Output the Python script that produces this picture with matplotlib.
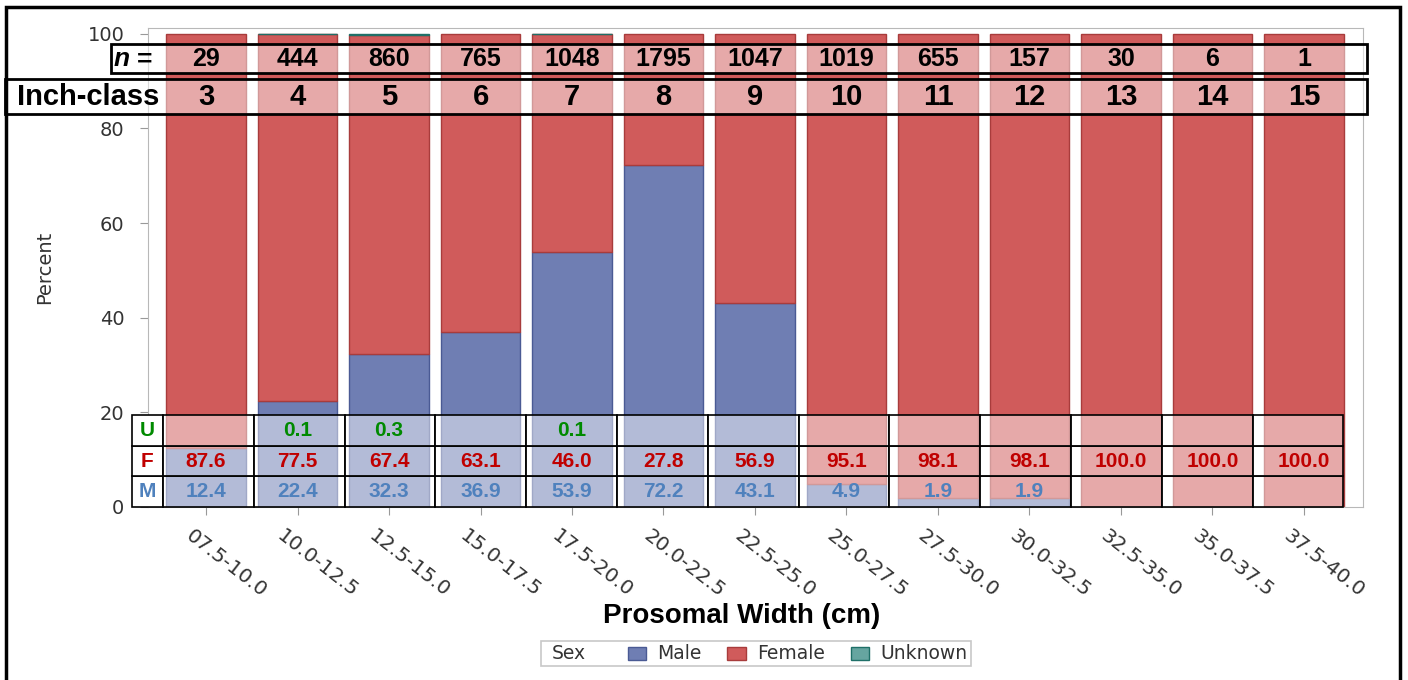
import numpy as np
import matplotlib
matplotlib.use('Agg')
import matplotlib.pyplot as plt
from matplotlib.patches import Rectangle
from matplotlib.transforms import ScaledTranslation
from matplotlib.offsetbox import AnchoredOffsetbox, HPacker, TextArea, DrawingArea
from matplotlib import font_manager

# Dados
classes = ['07.5-10.0', '10.0-12.5', '12.5-15.0', '15.0-17.5', '17.5-20.0', '20.0-22.5',
           '22.5-25.0', '25.0-27.5', '27.5-30.0', '30.0-32.5', '32.5-35.0', '35.0-37.5', '37.5-40.0']
inch_class = [3, 4, 5, 6, 7, 8, 9, 10, 11, 12, 13, 14, 15]
n_counts = [29, 444, 860, 765, 1048, 1795, 1047, 1019, 655, 157, 30, 6, 1]
pct_male = [12.4, 22.4, 32.3, 36.9, 53.9, 72.2, 43.1, 4.9, 1.9, 1.9, 0, 0, 0]
pct_female = [87.6, 77.5, 67.4, 63.1, 46.0, 27.8, 56.9, 95.1, 98.1, 98.1, 100.0, 100.0, 100.0]
pct_unknown = [0, 0.1, 0.3, 0, 0.1, 0, 0, 0, 0, 0, 0, 0, 0]

cor_male, borda_male = '#6F7EB3', '#4A5A94'
cor_female, borda_female = '#D05B5B', '#A83C3C'
cor_unknown, borda_unknown = '#66A5A0', '#1F7068'
txt_u, txt_f, txt_m = '#008A00', '#C00000', '#4F81BD'
sas_font = 'DejaVu Sans'
ppt_font = 'Liberation Sans'
nomes = {f.name for f in font_manager.fontManager.ttflist}
narrow_font = 'Liberation Sans Narrow' if 'Liberation Sans Narrow' in nomes else ppt_font
cell_font = ppt_font

W, H = 1408, 680
fig = plt.figure(figsize=(W / 100, H / 100), dpi=100)
ax = fig.add_axes([148 / W, 1 - 507 / H, (1363 - 148) / W, (507 - 28) / H])

x = np.arange(len(classes))
male = np.array(pct_male)
female = np.array(pct_female)
unknown = np.array(pct_unknown)
bw = 0.874

ax.bar(x[male > 0], male[male > 0], bw, color=cor_male, edgecolor=borda_male, linewidth=1, zorder=2)
ax.bar(x, female, bw, bottom=male, color=cor_female, edgecolor=borda_female, linewidth=1, zorder=2)
m = unknown > 0
ax.bar(x[m], unknown[m], bw, bottom=(male + female)[m], color=cor_unknown, edgecolor=borda_unknown,
       linewidth=1, zorder=2)

ax.set_xlim(-0.634, 12.645)
ax.set_ylim(0, 101.2)
for s in ax.spines.values():
    s.set_color('#b8b8b8')
ax.set_yticks([0, 20, 40, 60, 80, 100])
ax.tick_params(axis='y', length=6, color='#999999', labelsize=14, labelcolor='#333333', pad=11)
ax.tick_params(axis='x', length=6, color='#999999', labelsize=14.5, labelcolor='#333333', pad=8)
for lab in ax.get_yticklabels():
    lab.set_family(sas_font)
ax.set_xticks(x)
ax.set_xticklabels(classes, rotation=-38, ha='left', va='top', rotation_mode='anchor', family=sas_font)
desloc = ScaledTranslation(-12 / 100, 0, fig.dpi_scale_trans)
for lab in ax.get_xticklabels():
    lab.set_transform(lab.get_transform() + desloc)

ax.set_ylabel('Percent', fontsize=14, color='#333333', family=sas_font)
ax.yaxis.set_label_coords((54 - 148) / (1363 - 148), 0.5)


def caixa(x0, x1, y0, y1, fc=(1, 1, 1, 0.48), lw=1.5):
    ax.add_patch(Rectangle((x0, y0), x1 - x0, y1 - y0, facecolor=fc, edgecolor='black',
                           linewidth=lw, clip_on=False, zorder=5))


# Linhas superiores: n e inch-class
caixa(-1.038, 12.69, 91.66, 97.78, lw=2)
caixa(-2.197, 12.69, 83.0, 90.4, lw=2)
ax.text(-0.59, 94.6, '=', ha='right', va='center', fontsize=19, weight='bold', family=ppt_font,
        zorder=6, clip_on=False)
ax.text(-0.835, 94.6, 'n', ha='right', va='center', fontsize=19, weight='bold', style='italic',
        family=ppt_font, zorder=6, clip_on=False)
ax.text(-2.07, 86.6, 'Inch-class', ha='left', va='center', fontsize=21, weight='bold',
        family=ppt_font, zorder=6, clip_on=False)
for i in x:
    ax.text(i, 94.6, str(n_counts[i]), ha='center', va='center', fontsize=18, weight='bold',
            family=narrow_font, zorder=6, clip_on=False)
    ax.text(i, 86.6, str(inch_class[i]), ha='center', va='center', fontsize=21, weight='bold',
            family=ppt_font, zorder=6, clip_on=False)

# Tabela inferior com percentuais
bordas = np.linspace(-0.47, 12.43, len(classes) + 1)
linhas = [0, 6.47, 12.94, 19.41]
rotulos = [('M', txt_m, male), ('F', txt_f, female), ('U', txt_u, unknown)]
for r, (rot, cor, vals) in enumerate(rotulos):
    y0, y1 = linhas[r], linhas[r + 1]
    caixa(-0.81, bordas[0], y0, y1, fc='white', lw=1.2)
    ax.text((-0.81 + bordas[0]) / 2, (y0 + y1) / 2, rot, ha='center', va='center', color=cor,
            fontsize=15, weight='bold', family=cell_font, zorder=6, clip_on=False)
    for i in x:
        caixa(bordas[i], bordas[i + 1], y0, y1, lw=1.2)
        if vals[i] > 0:
            ax.text(i, (y0 + y1) / 2, f'{vals[i]:.1f}', ha='center', va='center', color=cor,
                    fontsize=15, weight='bold', family=cell_font, zorder=6)

fig.text(742 / W, 1 - 616 / H, 'Prosomal Width (cm)', ha='center', va='center', fontsize=20,
         weight='bold', family=ppt_font)

# Legenda
props = dict(fontsize=13.5, color='#333333', family=sas_font)
itens = []
for cor, borda, nome in [(cor_male, borda_male, 'Male'), (cor_female, borda_female, 'Female'),
                         (cor_unknown, borda_unknown, 'Unknown')]:
    da = DrawingArea(13, 9.5, 0, 0)
    da.add_artist(Rectangle((0, 0), 13, 9.5, facecolor=cor, edgecolor=borda, linewidth=1))
    itens.append(HPacker(children=[da, TextArea(nome, textprops=props)], sep=8, align='center'))
linha = HPacker(children=itens, sep=19, align='center')
sexo = HPacker(children=[DrawingArea(5, 1), TextArea('Sex', textprops=props)], sep=0, align='center')
conteudo = HPacker(children=[sexo, linha], sep=30, align='center')
leg = AnchoredOffsetbox(loc='center', child=conteudo, pad=0.25, borderpad=0, frameon=True,
                        bbox_to_anchor=(756 / W, 1 - 653.5 / H), bbox_transform=fig.transFigure)
leg.patch.set_edgecolor('#c8c8c8')
leg.patch.set_linewidth(1.2)
fig.add_artist(leg)

# Moldura preta em volta da figura
fig.add_artist(Rectangle((6 / W, -0.05), (1400 - 6) / W, 1 - 7 / H + 0.05, transform=fig.transFigure,
                         fill=False, edgecolor='black', linewidth=2.5))

fig.savefig('out.png', dpi=100)
